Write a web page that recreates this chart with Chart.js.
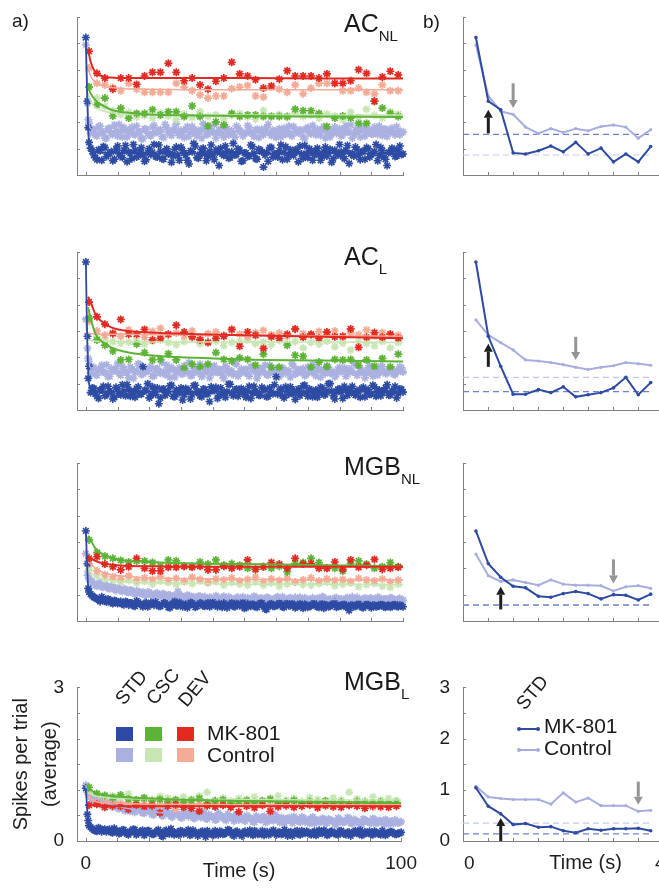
<!DOCTYPE html>
<html>
<head>
<meta charset="utf-8">
<script src="https://cdn.jsdelivr.net/npm/chart.js"></script>
<style>
html, body { margin:0; padding:0; background:#fff; overflow:hidden; }
#fig { position:relative; width:659px; height:889px; overflow:hidden; font-family:"Liberation Sans", Arial, sans-serif; color:#1a1a1a; }
#fig canvas { position:absolute; }
.t { position:absolute; white-space:nowrap; line-height:1; }
.ttl { font-size:25px; }
.ttl span { font-size:15px; position:relative; top:9px; }
.rot { position:absolute; font-size:19px; line-height:1; white-space:nowrap; transform-origin:0 100%; transform:rotate(-50deg); }
.sq { position:absolute; width:17px; height:14px; }
.leg { font-size:21px; }
.ln { position:absolute; height:2px; }
.dot { position:absolute; width:4px; height:4px; border-radius:2px; }
</style>
</head>
<body>
<div id="fig">
  <canvas id="cL0" width="420" height="182" style="left:0;top:5px"></canvas>
  <canvas id="cL1" width="420" height="182" style="left:0;top:240px"></canvas>
  <canvas id="cL2" width="420" height="182" style="left:0;top:451px"></canvas>
  <canvas id="cL3" width="420" height="218" style="left:0;top:671px"></canvas>
  <canvas id="cR0" width="308" height="182" style="left:420px;top:5px"></canvas>
  <canvas id="cR1" width="308" height="182" style="left:420px;top:240px"></canvas>
  <canvas id="cR2" width="308" height="182" style="left:420px;top:451px"></canvas>
  <canvas id="cR3" width="308" height="218" style="left:420px;top:671px"></canvas>

  <div class="t" style="left:12px;top:11px;font-size:19px">a)</div>
  <div class="t" style="left:423px;top:12px;font-size:19px">b)</div>

  <div class="t ttl" style="left:344px;top:11px">AC<span>NL</span></div>
  <div class="t ttl" style="left:344px;top:244px">AC<span>L</span></div>
  <div class="t ttl" style="left:344px;top:454px">MGB<span>NL</span></div>
  <div class="t ttl" style="left:344px;top:669px">MGB<span>L</span></div>

  <!-- legend, bottom left -->
  <div class="rot" style="left:126px;top:689px">STD</div>
  <div class="rot" style="left:157px;top:689px">CSC</div>
  <div class="rot" style="left:189px;top:691px">DEV</div>
  <div class="sq" style="left:116px;top:727px;background:#2d4ba3"></div>
  <div class="sq" style="left:145px;top:727px;background:#5cb336"></div>
  <div class="sq" style="left:177px;top:727px;background:#e12a22"></div>
  <div class="sq" style="left:116px;top:748px;background:#aab1e0"></div>
  <div class="sq" style="left:145px;top:748px;background:#c8e6b4"></div>
  <div class="sq" style="left:177px;top:748px;background:#f4ab96"></div>
  <div class="t leg" style="left:207px;top:722px">MK-801</div>
  <div class="t leg" style="left:207px;top:744px">Control</div>

  <!-- legend, bottom right -->
  <div class="rot" style="left:527px;top:694px">STD</div>
  <div class="ln" style="left:519px;top:728px;width:19px;background:#2d4ba3"></div>
  <div class="dot" style="left:517px;top:727px;background:#2d4ba3"></div>
  <div class="dot" style="left:536px;top:727px;background:#2d4ba3"></div>
  <div class="ln" style="left:519px;top:749px;width:19px;background:#a8addf"></div>
  <div class="dot" style="left:517px;top:748px;background:#a8addf"></div>
  <div class="dot" style="left:536px;top:748px;background:#a8addf"></div>
  <div class="t leg" style="left:544px;top:715px">MK-801</div>
  <div class="t leg" style="left:544px;top:737px">Control</div>
</div>

<script>
// time axes (s)
const tStd = [0,0.5,1,2,3,4,5,6,7,8,9,10,11,12,13,14,15,16,17,18,19,20,21,22,23,24,25,26,27,28,29,30,
  31,32,33,34,35,36,37,38,39,40,41,42,43,44,45,46,47,48,49,50,51,52,53,54,55,56,57,58,59,60,
  61,62,63,64,65,66,67,68,69,70,71,72,73,74,75,76,77,78,79,80,81,82,83,84,85,86,87,88,89,90,
  91,92,93,94,95,96,97,98,99,100];
const tStd2 = [0.75,1.5,2.5,3.5,4.5,5.5,6.5,7.5,8.5,9.5,10.5,11.5,12.5,13.5,14.5,15.5,16.5,17.5,18.5,19.5,
  20.5,21.5,22.5,23.5,24.5,25.5,26.5,27.5,28.5,29.5,30.5,31.5,32.5,33.5,34.5,35.5,36.5,37.5,38.5,39.5,
  40.5,41.5,42.5,43.5,44.5,45.5,46.5,47.5,48.5,49.5,50.5,51.5,52.5,53.5,54.5,55.5,56.5,57.5,58.5,59.5,
  60.5,61.5,62.5,63.5,64.5,65.5,66.5,67.5,68.5,69.5,70.5,71.5,72.5,73.5,74.5,75.5,76.5,77.5,78.5,79.5,
  80.5,81.5,82.5,83.5,84.5,85.5,86.5,87.5,88.5,89.5,90.5,91.5,92.5,93.5,94.5,95.5,96.5,97.5,98.5,99.5];
const tDev = [1,3.5,6,8.5,11,13.5,16,18.5,21,23.5,26,28.5,31,33.5,36,38.5,41,43.5,46,48.5,
  51,53.5,56,58.5,61,63.5,66,68.5,71,73.5,76,78.5,81,83.5,86,88.5,91,93.5,96,98.5];
const tFit = [0.7,1.5,3,5,8,12,20,35,50,75,100];
const tFitStd = [0,0.25,0.5,0.75,1,1.5,3,10,30,60,100];
const tTrial = [0.14,0.40,0.66,0.92,1.18,1.45,1.71,1.97,2.23,2.49,2.76,3.02,3.28,3.54,3.80];

// ---- AC NL ----
const acnlStdMk = [2.61,1.40,
  0.62,0.45,0.33,0.48,0.28,0.52,0.39,0.44,0.30,0.55, 0.36,0.47,0.25,0.41,0.58,0.34,0.46,0.38,0.29,0.50,
  0.43,0.35,0.57,0.31,0.44,0.40,0.24,0.49,0.37,0.53, 0.42,0.28,0.46,0.60,0.33,0.39,0.51,0.27,0.45,0.36,
  0.48,0.18,0.40,0.55,0.32,0.44,0.38,0.50,0.26,0.42, 0.35,0.57,0.41,0.30,0.47,0.15,0.43,0.52,0.34,0.39,
  0.46,0.29,0.54,0.37,0.42,0.48,0.25,0.40,0.56,0.33, 0.44,0.38,0.51,0.28,0.45,0.36,0.49,0.31,0.42,0.58,
  0.35,0.47,0.22,0.41,0.53,0.37,0.44,0.30,0.50,0.39, 0.45,0.27,0.52,0.34,0.18,0.43,0.48,0.36,0.55,0.40];
const acnlStdMk2 = [0.90,0.51,0.38,0.29,0.46,0.54,0.35,0.42,0.27,0.49, 0.40,0.33,0.56,0.44,0.31,0.47,0.37,0.52,0.26,0.43,
  0.39,0.58,0.34,0.45,0.30,0.50,0.41,0.36,0.53,0.28, 0.46,0.38,0.21,0.44,0.55,0.32,0.48,0.40,0.35,0.57,
  0.29,0.43,0.51,0.37,0.45,0.33,0.60,0.39,0.47,0.27, 0.42,0.36,0.54,0.31,0.49,0.44,0.38,0.26,0.52,0.40,
  0.34,0.57,0.43,0.30,0.48,0.37,0.45,0.55,0.32,0.41, 0.50,0.28,0.46,0.39,0.35,0.53,0.42,0.24,0.47,0.38,
  0.44,0.31,0.56,0.40,0.36,0.49,0.29,0.45,0.52,0.34, 0.41,0.58,0.37,0.46,0.30,0.43,0.51,0.35,0.48,0.39];
const acnlStdCtl = [2.47,1.36,
  0.98,0.85,0.76,0.92,0.80,0.70,0.88,0.79,0.95,0.74, 0.83,0.90,0.72,0.86,0.78,0.93,0.81,0.69,0.87,0.76,
  0.91,0.80,0.84,0.73,0.96,0.82,0.75,0.89,0.79,0.85, 0.71,0.92,0.80,0.86,0.74,0.83,0.97,0.77,0.88,0.81,
  0.70,0.85,0.79,0.91,0.76,0.84,0.72,0.89,0.82,0.78, 0.94,0.80,0.73,0.87,0.83,0.76,0.90,0.79,0.85,0.71,
  0.88,0.81,0.77,0.93,0.74,0.86,0.80,0.84,0.69,0.90, 0.78,0.83,0.87,0.75,0.92,0.81,0.72,0.85,0.79,0.88,
  0.76,0.94,0.82,0.70,0.86,0.80,0.89,0.74,0.84,0.78, 0.91,0.77,0.83,0.87,0.73,0.85,0.80,0.92,0.76,0.82];
const acnlStdCtl2 = [1.05,0.79,0.87,0.74,0.93,0.81,0.70,0.89,0.77,0.84, 0.96,0.72,0.85,0.80,0.91,0.76,0.83,0.69,0.88,0.79,
  0.74,0.94,0.82,0.86,0.71,0.90,0.78,0.84,0.97,0.75, 0.81,0.87,0.73,0.92,0.80,0.85,0.70,0.89,0.77,0.83,
  0.95,0.79,0.86,0.72,0.88,0.81,0.76,0.93,0.84,0.74, 0.80,0.90,0.78,0.85,0.71,0.87,0.82,0.96,0.75,0.83,
  0.79,0.72,0.89,0.84,0.77,0.92,0.81,0.86,0.73,0.88, 0.80,0.94,0.76,0.83,0.87,0.70,0.85,0.79,0.91,0.82,
  0.74,0.88,0.81,0.95,0.77,0.84,0.72,0.90,0.80,0.86, 0.78,0.83,0.93,0.75,0.87,0.81,0.89,0.76,0.84,0.80];
const acnlDevMk = [2.35,1.93,1.84,1.63,1.84,1.84,1.72,1.88,1.95,1.95, 2.12,1.95,1.79,1.84,1.71,1.63,1.78,1.84,2.14,1.92,
  1.88,1.81,1.65,1.69,1.82,1.98,1.88,1.88,1.88,1.84, 1.92,1.74,1.74,1.79,2.00,1.93,1.40,1.86,1.97,1.90];
const acnlDevCtl = [2.03,1.74,1.71,1.66,1.60,1.74,1.63,1.57,1.57,1.57, 1.57,1.74,1.67,1.60,1.52,1.46,1.50,1.50,1.64,1.67,
  1.70,1.50,1.48,1.67,1.63,1.57,1.71,1.54,1.65,1.74, 1.74,1.74,1.60,1.60,1.65,1.57,1.54,1.71,1.60,1.60];
const acnlCscMk = [1.67,1.33,1.46,1.12,1.27,1.08,1.17,1.17,1.24,1.14, 1.20,1.20,1.11,1.31,1.11,0.93,1.01,0.95,1.17,1.11,
  1.14,1.14,1.11,1.11,1.11,1.11,1.25,1.22,1.22,1.17, 0.92,1.08,1.12,1.08,0.98,0.98,1.40,1.27,1.17,1.11];
const acnlCscCtl = [1.68,1.46,1.30,1.22,1.15,1.19,1.10,1.13,1.08,1.18, 1.12,1.05,1.16,1.09,1.20,1.11,1.14,1.07,1.13,1.17,
  1.10,1.06,1.22,1.12,1.15,1.09,1.18,1.11,1.14,1.08, 1.16,1.12,1.05,1.19,1.10,1.25,1.13,1.08,1.20,1.16];
const acnlFitDevMk = [2.38,2.15,1.95,1.88,1.85,1.84,1.84,1.84,1.84,1.83,1.83];
const acnlFitDevCtl = [2.03,1.88,1.76,1.70,1.66,1.64,1.63,1.62,1.62,1.62,1.62];
const acnlFitCscMk = [1.67,1.55,1.42,1.33,1.24,1.19,1.15,1.13,1.12,1.11,1.10];
const acnlFitCscCtl = [1.55,1.40,1.28,1.22,1.18,1.16,1.15,1.14,1.14,1.14,1.14];
const acnlFitStdMk = [2.61,1.90,1.30,0.85,0.62,0.50,0.44,0.42,0.41,0.41,0.41];
const acnlFitStdCtl = [2.47,1.90,1.40,1.10,0.95,0.88,0.84,0.82,0.82,0.82,0.82];
const acnlTrialMk = [2.61,1.40,1.24,0.42,0.40,0.46,0.55,0.44,0.62,0.40,0.51,0.25,0.40,0.25,0.54];
const acnlTrialCtl = [2.47,1.50,1.21,1.15,0.91,0.79,0.88,0.81,0.88,0.84,0.92,0.95,0.91,0.70,0.86];
const acnlBase = [0.77,0.38];          // [MK-801, Control] reference levels
const acnlArrowUp = [0.40,0.79,1.24];  // [time, from, to]
const acnlArrowDown = [0.92,1.74,1.27];

// ---- AC L ----
const aclStdMk = [2.81,1.40,
  0.83,0.42,0.30,0.22,0.38,0.27,0.45,0.33,0.24,0.40, 0.29,0.36,0.48,0.26,0.34,0.41,0.31,0.82,0.37,0.23,
  0.44,0.30,0.12,0.39,0.28,0.35,0.47,0.25,0.33,0.42, 0.29,0.38,0.21,0.46,0.34,0.27,0.40,0.31,0.16,0.37,
  0.43,0.28,0.35,0.24,0.49,0.32,0.38,0.26,0.41,0.30, 0.36,0.22,0.45,0.33,0.28,0.39,0.25,0.42,0.31,0.63,
  0.35,0.27,0.44,0.30,0.38,0.20,0.40,0.33,0.47,0.26, 0.37,0.31,0.24,0.43,0.29,0.36,0.50,0.27,0.34,0.40,
  0.22,0.38,0.32,0.45,0.28,0.35,0.41,0.25,0.39,0.30, 0.44,0.33,0.27,0.37,0.48,0.29,0.36,0.23,0.40,0.34];
const aclStdMk2 = [0.60,0.33,0.41,0.26,0.38,0.45,0.29,0.36,0.21,0.43, 0.31,0.48,0.27,0.39,0.34,0.24,0.44,0.30,0.37,0.50,
  0.28,0.35,0.42,0.23,0.40,0.32,0.46,0.26,0.38,0.33, 0.19,0.41,0.36,0.29,0.47,0.34,0.25,0.39,0.31,0.44,
  0.37,0.22,0.42,0.30,0.35,0.49,0.27,0.40,0.33,0.38, 0.24,0.45,0.32,0.36,0.28,0.43,0.39,0.26,0.34,0.48,
  0.30,0.41,0.23,0.37,0.44,0.31,0.35,0.27,0.46,0.33, 0.40,0.25,0.38,0.32,0.42,0.29,0.50,0.36,0.21,0.39,
  0.34,0.45,0.28,0.41,0.31,0.37,0.24,0.43,0.35,0.30, 0.47,0.26,0.38,0.33,0.42,0.28,0.36,0.45,0.31,0.39];
const aclStdCtl = [1.72,1.17,
  0.92,0.80,0.68,0.76,0.85,0.71,0.63,0.79,0.74,0.88, 0.66,0.77,0.70,0.82,0.60,0.75,0.86,0.69,0.73,0.80,
  0.64,0.78,0.72,0.90,0.67,0.74,0.81,0.62,0.76,0.70, 0.84,0.71,0.65,0.79,0.73,0.87,0.68,0.75,0.61,0.80,
  0.72,0.77,0.66,0.83,0.70,0.74,0.89,0.64,0.78,0.71, 0.69,0.82,0.75,0.60,0.79,0.72,0.67,0.85,0.73,0.76,
  0.63,0.80,0.70,0.74,0.88,0.68,0.77,0.71,0.65,0.82, 0.74,0.69,0.79,0.62,0.76,0.84,0.70,0.73,0.67,0.81,
  0.75,0.64,0.78,0.72,0.86,0.69,0.74,0.61,0.80,0.71, 0.77,0.66,0.83,0.73,0.70,0.79,0.68,0.75,0.82,0.72];
const aclStdCtl2 = [0.98,0.70,0.81,0.66,0.77,0.72,0.86,0.64,0.75,0.79, 0.69,0.83,0.73,0.61,0.78,0.71,0.88,0.67,0.76,0.74,
  0.82,0.65,0.79,0.70,0.73,0.85,0.62,0.77,0.71,0.80, 0.68,0.75,0.90,0.66,0.78,0.72,0.63,0.81,0.74,0.69,
  0.84,0.71,0.76,0.60,0.79,0.73,0.67,0.87,0.70,0.75, 0.78,0.64,0.82,0.72,0.69,0.76,0.85,0.66,0.74,0.71,
  0.80,0.68,0.77,0.73,0.62,0.83,0.70,0.75,0.79,0.67, 0.72,0.86,0.65,0.78,0.74,0.69,0.81,0.71,0.63,0.77,
  0.73,0.80,0.68,0.75,0.89,0.66,0.79,0.72,0.70,0.84, 0.64,0.76,0.71,0.82,0.69,0.74,0.78,0.67,0.73,0.80];
const aclDevMk = [2.05,1.77,1.63,1.45,1.72,1.44,1.44,1.53,1.33,1.36, 1.44,1.61,1.48,1.39,1.33,1.28,1.36,1.40,1.53,1.21,
  1.48,1.42,1.17,1.39,1.36,1.44,1.54,1.38,1.44,1.36, 1.48,1.39,1.40,1.54,1.19,1.38,1.47,1.38,1.44,1.36];
const aclDevCtl = [1.68,1.50,1.42,1.47,1.40,1.52,1.44,1.38,1.49,1.55, 1.43,1.46,1.41,1.50,1.37,1.45,1.48,1.42,1.52,1.44,
  1.39,1.47,1.51,1.43,1.46,1.40,1.53,1.45,1.42,1.49, 1.44,1.50,1.38,1.46,1.43,1.52,1.41,1.47,1.44,1.42];
const aclCscMk = [1.74,1.33,1.23,1.12,0.95,0.96,1.25,1.09,0.95,0.96, 1.07,0.95,0.79,0.87,0.82,0.87,1.09,0.96,0.93,0.99,
  0.96,0.85,1.06,0.81,0.81,1.23,1.04,1.02,0.81,0.91, 0.82,0.96,0.95,0.96,0.85,0.95,0.83,0.98,0.82,1.06];
const aclCscCtl = [1.74,1.40,1.34,1.30,1.27,1.29,1.32,1.25,1.31,1.33, 1.28,1.24,1.30,1.35,1.26,1.29,1.31,1.22,1.28,1.30,
  1.33,1.26,1.29,1.24,1.32,1.27,1.30,1.18,1.28,1.25, 1.31,1.20,1.27,1.14,1.29,1.26,1.22,1.30,1.18,1.28];
const aclFitDevMk = [2.15,2.05,1.82,1.68,1.57,1.51,1.47,1.44,1.42,1.39,1.36];
const aclFitDevCtl = [1.46,1.45,1.45,1.44,1.44,1.44,1.43,1.43,1.42,1.41,1.40];
const aclFitCscMk = [1.95,1.74,1.45,1.30,1.19,1.11,1.04,0.99,0.96,0.94,0.92];
const aclFitCscCtl = [1.34,1.32,1.31,1.30,1.30,1.30,1.29,1.29,1.29,1.29,1.28];
const aclFitStdMk = [2.81,1.90,1.20,0.70,0.50,0.40,0.36,0.35,0.35,0.35,0.35];
const aclFitStdCtl = [1.72,1.45,1.20,1.00,0.88,0.80,0.76,0.74,0.73,0.73,0.73];
const aclTrialMk = [2.81,1.40,0.83,0.30,0.30,0.39,0.33,0.44,0.25,0.29,0.33,0.42,0.62,0.29,0.52];
const aclTrialCtl = [1.71,1.42,1.28,1.14,0.95,0.93,0.90,0.86,0.81,0.77,0.81,0.84,0.90,0.88,0.85];
const aclBase = [0.35,0.62];
const aclArrowUp = [0.40,0.82,1.26];
const aclArrowDown = [2.23,1.39,0.95];

// ---- MGB NL ----
const mgbnlStdMk = [1.71,1.09,
  0.55,0.48,0.44,0.40,0.46,0.38,0.42,0.35,0.39,0.33, 0.37,0.31,0.36,0.34,0.29,0.38,0.32,0.27,0.35,0.30,
  0.33,0.36,0.28,0.31,0.34,0.26,0.32,0.37,0.29,0.33, 0.30,0.25,0.35,0.31,0.28,0.34,0.29,0.32,0.27,0.36,
  0.30,0.33,0.26,0.31,0.29,0.35,0.27,0.32,0.30,0.24, 0.33,0.28,0.31,0.26,0.34,0.29,0.22,0.32,0.28,0.30,
  0.35,0.27,0.31,0.29,0.33,0.25,0.30,0.28,0.32,0.26, 0.29,0.34,0.27,0.31,0.24,0.30,0.28,0.33,0.26,0.29,
  0.31,0.27,0.20,0.30,0.28,0.33,0.26,0.29,0.31,0.25, 0.30,0.28,0.32,0.27,0.29,0.26,0.31,0.28,0.30,0.27];
const mgbnlStdMk2 = [0.62,0.51,0.45,0.42,0.37,0.43,0.36,0.40,0.33,0.38, 0.35,0.32,0.37,0.30,0.34,0.28,0.36,0.31,0.33,0.27,
  0.35,0.30,0.32,0.28,0.34,0.31,0.25,0.33,0.29,0.35, 0.27,0.32,0.30,0.34,0.26,0.31,0.33,0.28,0.35,0.29,
  0.32,0.27,0.30,0.34,0.25,0.31,0.28,0.33,0.29,0.36, 0.26,0.30,0.32,0.27,0.31,0.34,0.23,0.29,0.33,0.28,
  0.30,0.32,0.26,0.34,0.29,0.31,0.27,0.33,0.24,0.30, 0.28,0.32,0.29,0.26,0.33,0.30,0.27,0.31,0.35,0.28,
  0.29,0.32,0.26,0.30,0.27,0.31,0.29,0.25,0.32,0.28, 0.30,0.27,0.29,0.31,0.26,0.30,0.28,0.32,0.27,0.29];
const mgbnlStdCtl = [1.28,0.87,
  0.80,0.74,0.68,0.71,0.65,0.69,0.62,0.66,0.60,0.63, 0.58,0.61,0.55,0.59,0.53,0.57,0.52,0.55,0.50,0.54,
  0.49,0.52,0.47,0.51,0.46,0.50,0.45,0.48,0.56,0.47, 0.44,0.49,0.43,0.46,0.41,0.47,0.44,0.40,0.45,0.42,
  0.48,0.41,0.44,0.39,0.46,0.42,0.40,0.45,0.43,0.38, 0.44,0.41,0.47,0.40,0.43,0.39,0.45,0.42,0.37,0.44,
  0.41,0.46,0.39,0.43,0.40,0.45,0.38,0.42,0.44,0.39, 0.41,0.36,0.43,0.40,0.45,0.38,0.42,0.39,0.44,0.41,
  0.37,0.43,0.40,0.46,0.39,0.42,0.38,0.44,0.41,0.43, 0.39,0.45,0.40,0.42,0.38,0.44,0.41,0.39,0.43,0.40];
const mgbnlStdCtl2 = [0.95,0.77,0.71,0.66,0.72,0.64,0.67,0.61,0.65,0.58, 0.62,0.56,0.60,0.54,0.58,0.51,0.56,0.53,0.49,0.55,
  0.50,0.46,0.53,0.48,0.52,0.44,0.49,0.47,0.43,0.50, 0.46,0.42,0.48,0.45,0.40,0.47,0.43,0.46,0.41,0.44,
  0.39,0.45,0.42,0.47,0.40,0.43,0.38,0.44,0.41,0.46, 0.40,0.42,0.37,0.45,0.41,0.43,0.39,0.44,0.40,0.42,
  0.46,0.38,0.43,0.40,0.44,0.37,0.41,0.45,0.39,0.42, 0.40,0.44,0.38,0.42,0.46,0.39,0.41,0.37,0.43,0.40,
  0.42,0.38,0.44,0.41,0.39,0.45,0.40,0.42,0.38,0.43, 0.41,0.39,0.44,0.40,0.42,0.37,0.43,0.40,0.41,0.39];
const mgbnlDevMk = [1.19,1.22,1.08,1.03,0.97,1.03,1.19,1.00,0.95,0.95, 1.02,1.02,1.04,1.02,1.04,0.97,0.97,1.04,1.00,1.03,
  1.16,0.98,1.03,1.11,1.08,1.00,1.19,1.08,1.09,1.00, 1.00,1.12,0.98,1.16,1.02,1.06,1.17,0.98,1.00,1.02];
const mgbnlDevCtl = [1.08,0.95,0.88,0.84,0.80,0.86,0.78,0.82,0.79,0.85, 0.77,0.81,0.76,0.83,0.79,0.74,0.80,0.78,0.82,0.76,
  0.79,0.83,0.75,0.80,0.77,0.81,0.74,0.78,0.82,0.76, 0.80,0.77,0.79,0.75,0.81,0.78,0.76,0.80,0.74,0.78];
const mgbnlCscMk = [1.54,1.30,1.23,1.19,1.15,1.12,1.14,1.14,1.11,1.04, 1.16,1.14,1.04,1.04,1.12,1.08,1.16,1.06,1.09,1.06,
  1.00,0.98,1.03,1.00,1.04,0.93,1.09,1.11,1.19,1.11, 1.00,1.00,0.95,1.09,1.14,1.08,1.00,1.03,1.11,1.03];
const mgbnlCscCtl = [0.98,0.86,0.80,0.78,0.74,0.77,0.72,0.75,0.70,0.76, 0.73,0.69,0.74,0.71,0.77,0.72,0.75,0.68,0.73,0.70,
  0.68,0.74,0.68,0.72,0.66,0.70,0.73,0.69,0.68,0.71, 0.74,0.67,0.70,0.72,0.65,0.69,0.71,0.66,0.64,0.70];
const mgbnlFitDevMk = [1.22,1.19,1.14,1.10,1.07,1.05,1.04,1.03,1.03,1.03,1.03];
const mgbnlFitDevCtl = [1.12,1.08,1.00,0.93,0.88,0.85,0.82,0.80,0.79,0.78,0.78];
const mgbnlFitCscMk = [1.62,1.54,1.38,1.28,1.20,1.15,1.12,1.09,1.08,1.06,1.04];
const mgbnlFitCscCtl = [0.98,0.92,0.84,0.80,0.77,0.75,0.73,0.71,0.70,0.70,0.69];
const mgbnlFitStdMk = [1.71,1.30,0.90,0.60,0.50,0.45,0.40,0.32,0.30,0.29,0.28];
const mgbnlFitStdCtl = [1.28,1.10,0.95,0.85,0.80,0.76,0.70,0.58,0.46,0.42,0.40];
const mgbnlTrialMk = [1.71,1.09,0.83,0.66,0.63,0.47,0.45,0.52,0.56,0.52,0.42,0.50,0.49,0.40,0.51];
const mgbnlTrialCtl = [1.27,0.86,0.75,0.78,0.73,0.68,0.78,0.70,0.68,0.68,0.67,0.57,0.65,0.67,0.62];
const mgbnlBase = [0.30,0.31];
const mgbnlArrowUp = [0.66,0.22,0.65];
const mgbnlArrowDown = [3.02,1.17,0.71];

// ---- MGB L ----
const mgblStdMk = [1.03,0.52,
  0.30,0.24,0.20,0.26,0.18,0.23,0.21,0.17,0.25,0.19, 0.16,0.22,0.14,0.19,0.23,0.12,0.18,0.21,0.15,0.20,
  0.13,0.17,0.22,0.10,0.19,0.15,0.24,0.12,0.17,0.20, 0.14,0.18,0.11,0.21,0.16,0.13,0.19,0.08,0.17,0.15,
  0.20,0.12,0.18,0.14,0.22,0.16,0.10,0.19,0.13,0.17, 0.15,0.21,0.11,0.18,0.14,0.20,0.16,0.12,0.19,0.15,
  0.17,0.13,0.22,0.10,0.18,0.15,0.20,0.12,0.16,0.19, 0.14,0.17,0.11,0.21,0.15,0.18,0.13,0.19,0.16,0.12,
  0.20,0.14,0.17,0.10,0.18,0.15,0.21,0.13,0.16,0.19, 0.12,0.17,0.14,0.20,0.11,0.16,0.18,0.13,0.15,0.17];
const mgblStdMk2 = [0.40,0.27,0.22,0.19,0.24,0.21,0.18,0.23,0.16,0.20, 0.14,0.21,0.17,0.12,0.19,0.22,0.15,0.18,0.11,0.20,
  0.16,0.13,0.19,0.17,0.09,0.21,0.14,0.18,0.15,0.12, 0.19,0.16,0.22,0.13,0.17,0.10,0.18,0.15,0.20,0.14,
  0.11,0.17,0.19,0.13,0.16,0.21,0.12,0.18,0.15,0.10, 0.19,0.14,0.17,0.20,0.13,0.16,0.11,0.18,0.15,0.21,
  0.12,0.17,0.14,0.19,0.16,0.10,0.18,0.13,0.20,0.15, 0.17,0.12,0.19,0.14,0.16,0.21,0.11,0.18,0.15,0.13,
  0.19,0.16,0.12,0.17,0.14,0.20,0.15,0.11,0.18,0.16, 0.13,0.19,0.15,0.12,0.17,0.14,0.18,0.16,0.13,0.15];
const mgblStdCtl = [1.09,0.95,
  0.90,0.82,0.75,0.86,0.70,0.79,0.73,0.68,0.77,0.65, 0.72,0.62,0.70,0.58,0.67,0.74,0.60,0.55,0.66,0.61,
  0.52,0.64,0.57,0.50,0.62,0.55,0.48,0.59,0.53,0.46, 0.57,0.51,0.63,0.45,0.54,0.49,0.58,0.44,0.52,0.47,
  0.41,0.55,0.48,0.43,0.53,0.46,0.39,0.51,0.45,0.42, 0.50,0.44,0.38,0.49,0.43,0.47,0.36,0.45,0.41,0.52,
  0.40,0.46,0.35,0.44,0.39,0.48,0.42,0.37,0.45,0.40, 0.34,0.47,0.41,0.38,0.44,0.36,0.43,0.39,0.33,0.45,
  0.40,0.37,0.46,0.35,0.42,0.38,0.31,0.43,0.39,0.36, 0.44,0.34,0.40,0.37,0.42,0.33,0.39,0.41,0.35,0.38];
const mgblStdCtl2 = [1.00,0.86,0.78,0.83,0.72,0.80,0.69,0.75,0.66,0.73, 0.63,0.70,0.59,0.68,0.64,0.56,0.65,0.60,0.54,0.62,
  0.57,0.51,0.60,0.55,0.49,0.58,0.52,0.47,0.56,0.50, 0.45,0.54,0.48,0.52,0.44,0.50,0.46,0.55,0.43,0.49,
  0.47,0.42,0.51,0.45,0.40,0.48,0.44,0.50,0.41,0.46, 0.39,0.47,0.43,0.37,0.45,0.41,0.48,0.38,0.44,0.40,
  0.46,0.36,0.43,0.39,0.45,0.35,0.42,0.38,0.47,0.37, 0.41,0.44,0.34,0.40,0.37,0.43,0.35,0.41,0.38,0.32,
  0.42,0.36,0.39,0.44,0.34,0.40,0.37,0.33,0.41,0.38, 0.35,0.42,0.36,0.39,0.32,0.40,0.37,0.34,0.39,0.36];
const mgblDevMk = [0.70,0.72,0.66,0.69,0.68,0.62,0.70,0.67,0.69,0.55, 0.68,0.71,0.66,0.64,0.58,0.69,0.67,0.70,0.66,0.57,
  0.68,0.65,0.70,0.58,0.67,0.69,0.66,0.68,0.71,0.65, 0.69,0.67,0.66,0.70,0.68,0.64,0.69,0.67,0.66,0.68];
const mgblDevCtl = [0.90,0.80,0.76,0.74,0.72,0.75,0.70,0.73,0.71,0.69, 0.74,0.62,0.72,0.70,0.73,0.68,0.75,0.71,0.69,0.73,
  0.70,0.74,0.72,0.68,0.71,0.73,0.69,0.72,0.70,0.74, 0.71,0.68,0.73,0.70,0.72,0.69,0.66,0.73,0.70,0.71];
const mgblCscMk = [1.05,0.93,0.89,0.85,0.90,0.82,0.80,0.84,0.78,0.81, 0.77,0.80,0.76,0.79,0.83,0.75,0.78,0.80,0.74,0.77,
  0.79,0.75,0.78,0.81,0.74,0.76,0.79,0.73,0.77,0.75, 0.78,0.74,0.76,0.72,0.77,0.75,0.74,0.76,0.73,0.75];
const mgblCscCtl = [1.00,0.90,0.86,0.88,0.83,0.92,0.80,0.85,0.81,0.87, 0.84,0.79,0.86,0.82,0.88,0.95,0.80,0.84,0.78,0.83,
  0.81,0.86,0.79,0.84,0.88,0.80,0.83,0.77,0.85,0.81, 0.79,0.84,0.80,0.95,0.82,0.78,0.86,0.80,0.83,0.79];
const mgblFitDevMk = [0.70,0.70,0.69,0.69,0.68,0.68,0.68,0.68,0.68,0.68,0.68];
const mgblFitDevCtl = [0.88,0.82,0.77,0.75,0.74,0.73,0.72,0.72,0.71,0.71,0.71];
const mgblFitCscMk = [1.03,1.00,0.94,0.91,0.88,0.86,0.83,0.80,0.78,0.76,0.74];
const mgblFitCscCtl = [0.95,0.92,0.88,0.86,0.84,0.83,0.82,0.81,0.81,0.80,0.80];
const mgblFitStdMk = [1.03,0.80,0.55,0.38,0.30,0.26,0.23,0.18,0.16,0.15,0.15];
const mgblFitStdCtl = [1.09,1.00,0.95,0.92,0.90,0.87,0.83,0.68,0.52,0.44,0.38];
const mgblTrialMk = [1.04,0.68,0.53,0.32,0.34,0.27,0.28,0.20,0.16,0.24,0.21,0.24,0.24,0.25,0.20];
const mgblTrialCtl = [1.07,0.86,0.83,0.81,0.81,0.81,0.72,0.94,0.76,0.84,0.69,0.69,0.69,0.58,0.60];
const mgblBase = [0.14,0.35];
const mgblArrowUp = [0.66,0,0.45];
const mgblArrowDown = [3.54,1.16,0.71];

// tick marks
const yMarks = [0,0.5,1,1.5,2,2.5,3];
const leftXMarks = [0,10,20,30,40,50,60,70,80,90,100];
const rightXMarks = [0.40,0.92,1.45,1.97,2.49,3.02,3.54];

const C = {
  std:'#2d4ba3', stdC:'#aab1e0',
  csc:'#5cb336', cscC:'#c8e6b4',
  dev:'#e12a22', devC:'#f4ab96',
  mk:'#2d4ba3', ctl:'#a8addf',
  baseMk:'#6f80cf', baseCtl:'#c3c8ee',
  up:'#1e1e1e', down:'#959595',
  axis:'#808080', text:'#1e1e1e'
};

Chart.defaults.font.family = '"Liberation Sans", Arial, sans-serif';
Chart.defaults.color = C.text;
Chart.defaults.animation = false;

const pts = (xs, ys) => ys.map((v, i) => ({x: xs[i], y: v}));

// inward ticks (matlab style)
const inTicks = {
  id: 'inTicks',
  afterDraw(chart, args, opts) {
    const ctx = chart.ctx, a = chart.chartArea;
    const xs = chart.scales.x, ys = chart.scales.y;
    ctx.save();
    ctx.strokeStyle = C.axis;
    ctx.lineWidth = 1;
    ctx.beginPath();
    opts.x.forEach(v => {
      const px = Math.round(xs.getPixelForValue(v)) + 0.5;
      ctx.moveTo(px, a.bottom); ctx.lineTo(px, a.bottom - 3);
    });
    opts.y.forEach(v => {
      const py = Math.round(ys.getPixelForValue(v)) + 0.5;
      ctx.moveTo(a.left, py); ctx.lineTo(a.left + 3, py);
    });
    ctx.stroke();
    ctx.restore();
  }
};

const arrows = {
  id: 'arrows',
  afterDatasetsDraw(chart, args, opts) {
    if (!opts.list) return;
    const ctx = chart.ctx, xs = chart.scales.x, ys = chart.scales.y;
    opts.list.forEach(ar => {
      const x = xs.getPixelForValue(ar[0]);
      const y0 = ys.getPixelForValue(ar[1]), y1 = ys.getPixelForValue(ar[2]);
      const dir = y1 > y0 ? 1 : -1, head = 8;
      ctx.save();
      ctx.strokeStyle = ctx.fillStyle = ar[3];
      ctx.lineWidth = 3;
      ctx.beginPath();
      ctx.moveTo(x, y0); ctx.lineTo(x, y1 - dir * head);
      ctx.stroke();
      ctx.beginPath();
      ctx.moveTo(x, y1);
      ctx.lineTo(x - 4.5, y1 - dir * head);
      ctx.lineTo(x + 4.5, y1 - dir * head);
      ctx.closePath();
      ctx.fill();
      ctx.restore();
    });
  }
};

function scatterSet(xs, ys, color, r, bw, order) {
  return { type:'scatter', data: pts(xs, ys), showLine:false, pointStyle:'star',
    pointRadius:r, pointBorderWidth:bw, pointBorderColor:color, pointBackgroundColor:color,
    borderColor:color, order:order, clip:false };
}
function fitSet(xs, ys, color, w, order) {
  return { type:'line', data: pts(xs, ys), borderColor:color, borderWidth:w, pointRadius:0,
    cubicInterpolationMode:'monotone', fill:false, order:order, clip:false };
}

function yScale(bottom, labels, width, title) {
  return {
    type:'linear', min:0, max:3,
    grid:{display:false}, border:{color:C.axis, width:1},
    ticks:{display:bottom, font:{size:19}, padding:5},
    afterBuildTicks: s => { s.ticks = labels.map(v => ({value:v})); },
    afterFit: s => { s.width = width; },
    title: title && bottom ? { display:true, text:title, font:{size:20, lineHeight:1.45}, padding:{top:7, bottom:0} } : {display:false}
  };
}
function xScale(bottom, min, max, labels, titlePad) {
  return {
    type:'linear', min:min, max:max,
    grid:{display:false}, border:{color:C.axis, width:1},
    ticks:{display:bottom, font:{size:19}, padding:3, maxRotation:0, autoSkip:false},
    afterBuildTicks: s => { s.ticks = labels.map(v => ({value:v})); },
    afterFit: s => { s.height = bottom ? 48 : 12; },
    title: { display:bottom, text:'Time (s)', font:{size:20}, padding:{top:0, bottom:titlePad} }
  };
}

function leftChart(id, bottom, std, std2, stdC, stdC2, csc, cscC, dev, devC, fStd, fStdC, fCsc, fCscC, fDev, fDevC) {
  new Chart(document.getElementById(id), {
    type:'scatter',
    data:{ datasets:[
      fitSet(tFit, fDev, C.dev, 2, 0),
      fitSet(tFit, fCsc, C.csc, 2, 0),
      fitSet(tFitStd, fStd, C.std, 1.8, 0),
      fitSet(tFit, fDevC, C.devC, 1.5, 1),
      fitSet(tFit, fCscC, C.cscC, 1.5, 1),
      fitSet(tFitStd, fStdC, C.stdC, 1.5, 1),
      scatterSet(tDev, dev, C.dev, 4, 1.7, 2),
      scatterSet(tDev, csc, C.csc, 4, 1.7, 2),
      scatterSet(tStd, std, C.std, 4, 1.6, 3),
      scatterSet(tStd2, std2, C.std, 4, 1.6, 3),
      scatterSet(tDev, devC, C.devC, 4, 1.7, 4),
      scatterSet(tDev, cscC, C.cscC, 4, 1.7, 4),
      scatterSet(tStd, stdC, C.stdC, 4, 1.6, 5),
      scatterSet(tStd2, stdC2, C.stdC, 4, 1.6, 5)
    ]},
    options:{
      responsive:false, animation:false,
      layout:{padding:{top:12, right:17, left:0, bottom:0}},
      plugins:{ legend:{display:false}, tooltip:{enabled:false},
        inTicks:{x:leftXMarks, y:yMarks} },
      scales:{
        x: xScale(bottom, -2.8, 100, [0,100], 6),
        y: yScale(bottom, [0,3], 77, ['Spikes per trial','(average)'])
      }
    },
    plugins:[inTicks]
  });
}

function rightChart(id, bottom, mk, ctl, base, up, down) {
  new Chart(document.getElementById(id), {
    type:'scatter',
    data:{ datasets:[
      { type:'line', data:pts(tTrial, mk), borderColor:C.mk, borderWidth:2, pointRadius:1.8,
        pointBackgroundColor:C.mk, pointBorderWidth:0, tension:0, order:0 },
      { type:'line', data:pts(tTrial, ctl), borderColor:C.ctl, borderWidth:2, pointRadius:1.6,
        pointBackgroundColor:C.ctl, pointBorderWidth:0, tension:0, order:1 },
      { type:'line', data:pts([-0.13, 3.80], [base[0], base[0]]), borderColor:C.baseMk, borderWidth:1.2,
        borderDash:[6,4], pointRadius:0, order:2 },
      { type:'line', data:pts([-0.13, 3.80], [base[1], base[1]]), borderColor:C.baseCtl, borderWidth:1.2,
        borderDash:[6,4], pointRadius:0, order:3 }
    ]},
    options:{
      responsive:false, animation:false,
      layout:{padding:{top:12, right:20, left:0, bottom:0}},
      plugins:{ legend:{display:false}, tooltip:{enabled:false},
        inTicks:{x:rightXMarks, y:yMarks},
        arrows:{list:[[up[0], up[1], up[2], C.up], [down[0], down[1], down[2], C.down]]} },
      scales:{
        x: xScale(bottom, -0.13, 5, [0,4], 14),
        y: yScale(bottom, [0,1,2,3], 43, null)
      }
    },
    plugins:[inTicks, arrows]
  });
}

leftChart('cL0', false, acnlStdMk, acnlStdMk2, acnlStdCtl, acnlStdCtl2, acnlCscMk, acnlCscCtl, acnlDevMk, acnlDevCtl,
  acnlFitStdMk, acnlFitStdCtl, acnlFitCscMk, acnlFitCscCtl, acnlFitDevMk, acnlFitDevCtl);
leftChart('cL1', false, aclStdMk, aclStdMk2, aclStdCtl, aclStdCtl2, aclCscMk, aclCscCtl, aclDevMk, aclDevCtl,
  aclFitStdMk, aclFitStdCtl, aclFitCscMk, aclFitCscCtl, aclFitDevMk, aclFitDevCtl);
leftChart('cL2', false, mgbnlStdMk, mgbnlStdMk2, mgbnlStdCtl, mgbnlStdCtl2, mgbnlCscMk, mgbnlCscCtl, mgbnlDevMk, mgbnlDevCtl,
  mgbnlFitStdMk, mgbnlFitStdCtl, mgbnlFitCscMk, mgbnlFitCscCtl, mgbnlFitDevMk, mgbnlFitDevCtl);
leftChart('cL3', true, mgblStdMk, mgblStdMk2, mgblStdCtl, mgblStdCtl2, mgblCscMk, mgblCscCtl, mgblDevMk, mgblDevCtl,
  mgblFitStdMk, mgblFitStdCtl, mgblFitCscMk, mgblFitCscCtl, mgblFitDevMk, mgblFitDevCtl);

rightChart('cR0', false, acnlTrialMk, acnlTrialCtl, acnlBase, acnlArrowUp, acnlArrowDown);
rightChart('cR1', false, aclTrialMk, aclTrialCtl, aclBase, aclArrowUp, aclArrowDown);
rightChart('cR2', false, mgbnlTrialMk, mgbnlTrialCtl, mgbnlBase, mgbnlArrowUp, mgbnlArrowDown);
rightChart('cR3', true, mgblTrialMk, mgblTrialCtl, mgblBase, mgblArrowUp, mgblArrowDown);
</script>
</body>
</html>
